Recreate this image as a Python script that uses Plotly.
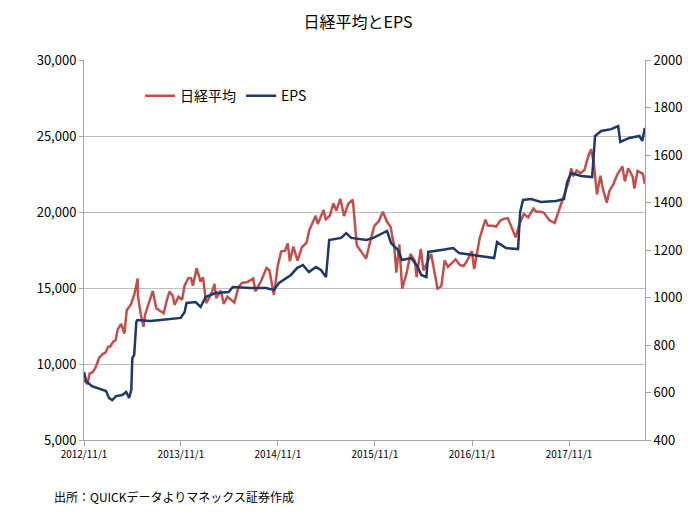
import plotly.graph_objects as go

# 日経平均 (読み取り値)
nikkei_dates = [
    "2012-11-01", "2012-11-14", "2012-11-22", "2012-12-03", "2012-12-14", "2012-12-28",
    "2013-01-10", "2013-01-21", "2013-01-31", "2013-02-08", "2013-02-19", "2013-02-28",
    "2013-03-08", "2013-03-21", "2013-04-02", "2013-04-11", "2013-04-26", "2013-05-10",
    "2013-05-22", "2013-05-23", "2013-06-03", "2013-06-13", "2013-06-19", "2013-07-01",
    "2013-07-18", "2013-07-31", "2013-08-12", "2013-08-28", "2013-09-09", "2013-09-19",
    "2013-10-01", "2013-10-08", "2013-10-23", "2013-11-05", "2013-11-15", "2013-11-29",
    "2013-12-09", "2013-12-16", "2013-12-30", "2014-01-14", "2014-01-23", "2014-02-04",
    "2014-02-14", "2014-02-28", "2014-03-07", "2014-03-14", "2014-03-31", "2014-04-11",
    "2014-04-25", "2014-05-12", "2014-05-21", "2014-06-06", "2014-06-20", "2014-07-07",
    "2014-07-31", "2014-08-08", "2014-08-29", "2014-09-19", "2014-09-30", "2014-10-17",
    "2014-10-31", "2014-11-13", "2014-11-28", "2014-12-08", "2014-12-16", "2014-12-29",
    "2015-01-14", "2015-01-30", "2015-02-17", "2015-02-27", "2015-03-23", "2015-03-31",
    "2015-04-22", "2015-04-30", "2015-05-15", "2015-05-29", "2015-06-09", "2015-06-24",
    "2015-07-08", "2015-07-24", "2015-08-10", "2015-08-25", "2015-09-08", "2015-09-29",
    "2015-10-15", "2015-10-30", "2015-11-16", "2015-12-01", "2015-12-17", "2015-12-30",
    "2016-01-13", "2016-01-21", "2016-02-01", "2016-02-12", "2016-02-29", "2016-03-14",
    "2016-03-31", "2016-04-06", "2016-04-22", "2016-05-02", "2016-05-31", "2016-06-24",
    "2016-07-08", "2016-07-21", "2016-08-02", "2016-08-31", "2016-09-16", "2016-09-30",
    "2016-10-13", "2016-10-31", "2016-11-09", "2016-11-30", "2016-12-21", "2016-12-30",
    "2017-01-16", "2017-01-31", "2017-02-15", "2017-03-02", "2017-03-16", "2017-03-31",
    "2017-04-14", "2017-04-28", "2017-05-15", "2017-05-31", "2017-06-20", "2017-06-30",
    "2017-07-19", "2017-07-31", "2017-08-18", "2017-09-08", "2017-09-29", "2017-10-13",
    "2017-10-31", "2017-11-09", "2017-11-16", "2017-11-30", "2017-12-15", "2017-12-29",
    "2018-01-12", "2018-01-23", "2018-02-02", "2018-02-14", "2018-02-27", "2018-03-09",
    "2018-03-23", "2018-04-02", "2018-04-17", "2018-05-02", "2018-05-21", "2018-05-30",
    "2018-06-12", "2018-06-29", "2018-07-05", "2018-07-17", "2018-07-31", "2018-08-06",
    "2018-08-13",
]
nikkei = [
    8946, 8664, 9366, 9458, 9737, 10395,
    10652, 10747, 11139, 11153, 11468, 11559,
    12283, 12636, 12003, 13549, 13884, 14608,
    15627, 14484, 13262, 12445, 13245, 13852,
    14808, 13668, 13519, 13338, 14205, 14766,
    14484, 13894, 14426, 14225, 15166, 15662,
    15651, 15153, 16291, 15422, 15695, 14009,
    14313, 14841, 15275, 14327, 14828, 13960,
    14429, 14150, 14043, 15077, 15349, 15379,
    15621, 14778, 15425, 16321, 16174, 14532,
    16414, 17392, 17460, 17935, 16756, 17730,
    16795, 17674, 17987, 18798, 19754, 19207,
    20133, 19520, 19733, 20563, 20096, 20868,
    19737, 20544, 20808, 17806, 17427, 16931,
    18096, 19083, 19394, 20012, 19353, 19034,
    17715, 16017, 17865, 14953, 16027, 17233,
    16759, 15715, 17572, 16147, 17235, 14952,
    15107, 16810, 16391, 16887, 16519, 16450,
    16775, 17425, 16251, 18308, 19494, 19114,
    19096, 19041, 19438, 19564, 19590, 18909,
    18336, 19197, 19869, 19651, 20230, 20033,
    20020, 19925, 19470, 19275, 20356, 21155,
    22012, 22869, 22351, 22725, 22553, 22765,
    23653, 24124, 23274, 21154, 22389, 21469,
    20618, 21389, 21836, 22473, 23002, 22018,
    22878, 22305, 21547, 22697, 22554, 22508,
    21858,
]

# EPS (読み取り値)
eps_dates = [
    "2012-11-01", "2012-11-09", "2012-12-01", "2012-12-31", "2013-01-23", "2013-02-03",
    "2013-02-15", "2013-03-02", "2013-03-25", "2013-04-09", "2013-04-20", "2013-04-28",
    "2013-05-02", "2013-05-09", "2013-05-17", "2013-05-21", "2013-07-09", "2013-08-16",
    "2013-09-23", "2013-10-31", "2013-11-15", "2013-11-22", "2013-12-26", "2014-01-14",
    "2014-02-02", "2014-03-11", "2014-04-30", "2014-05-15", "2014-07-22", "2014-09-17",
    "2014-10-17", "2014-11-05", "2014-12-20", "2015-01-12", "2015-02-03", "2015-02-26",
    "2015-03-24", "2015-04-12", "2015-05-01", "2015-05-13", "2015-06-27", "2015-07-16",
    "2015-08-04", "2015-09-30", "2015-10-26", "2015-12-02", "2015-12-17", "2016-01-01",
    "2016-01-27", "2016-02-11", "2016-03-17", "2016-04-08", "2016-04-24", "2016-05-13",
    "2016-05-20", "2016-07-08", "2016-08-22", "2016-09-13", "2016-10-28", "2016-12-24",
    "2017-01-23", "2017-02-03", "2017-03-09", "2017-04-23", "2017-05-01", "2017-05-12",
    "2017-06-11", "2017-07-18", "2017-09-13", "2017-10-13", "2017-10-25", "2017-11-09",
    "2017-12-16", "2018-01-27", "2018-02-07", "2018-03-02", "2018-04-09", "2018-05-05",
    "2018-05-13", "2018-06-16", "2018-07-24", "2018-08-04", "2018-08-13",
]
eps = [
    686, 648, 627, 615, 606, 577,
    568, 585, 589, 602, 577, 611,
    745, 758, 897, 905, 901, 905,
    909, 914, 939, 977, 981, 960,
    1002, 1019, 1023, 1044, 1040, 1040,
    1032, 1061, 1095, 1124, 1137, 1107,
    1128, 1116, 1086, 1242, 1251, 1271,
    1251, 1242, 1251, 1271, 1280, 1229,
    1200, 1158, 1166, 1133, 1095, 1086,
    1192, 1200, 1208, 1187, 1179, 1171,
    1166, 1233, 1208, 1204, 1360, 1411,
    1415, 1402, 1406, 1415, 1486, 1524,
    1512, 1507, 1680, 1701, 1709, 1722,
    1655, 1672, 1680, 1659, 1714,
]

tick_dates = ["2012-11-01", "2013-11-01", "2014-11-01", "2015-11-01", "2016-11-01", "2017-11-01"]
tick_labels = ["2012/11/1", "2013/11/1", "2014/11/1", "2015/11/1", "2016/11/1", "2017/11/1"]

font_jp = "Noto Sans CJK JP"

fig = go.Figure()
fig.add_trace(go.Scatter(x=nikkei_dates, y=nikkei, name="日経平均", mode="lines",
                         line=dict(color="#C0504D", width=2.5)))
fig.add_trace(go.Scatter(x=eps_dates, y=eps, name="EPS", mode="lines", yaxis="y2",
                         line=dict(color="#1F3864", width=2.5)))

# ページ本体の余白(8px)を見込んだマージン
fig.update_layout(
    width=700, height=522,
    margin=dict(l=76, r=63, t=52, b=90),
    paper_bgcolor="white", plot_bgcolor="white",
    font=dict(family=font_jp, color="#000000"),
    title=dict(text="日経平均とEPS", x=0.5, xanchor="center", y=0.973, yanchor="middle",
               font=dict(size=16, family=font_jp)),
    showlegend=True,
    legend=dict(orientation="h", x=0.1, y=0.947, xanchor="left", yanchor="top",
                bgcolor="rgba(0,0,0,0)", font=dict(size=14, family=font_jp),
                itemwidth=30, traceorder="normal"),
    xaxis=dict(type="date", range=["2012-11-01", "2018-08-14"],
               tickvals=tick_dates, ticktext=tick_labels,
               ticks="outside", ticklen=5, tickcolor="#A6A6A6",
               showline=True, linecolor="#A6A6A6", linewidth=1,
               showgrid=False, zeroline=False,
               tickfont=dict(size=10, family=font_jp)),
    yaxis=dict(range=[5000, 30000], dtick=5000, tickformat=",",
               ticks="outside", ticklen=4, tickcolor="#A6A6A6",
               showline=True, linecolor="#A6A6A6", linewidth=1,
               showgrid=True, gridcolor="#BFBFBF", gridwidth=1, zeroline=False,
               tickfont=dict(size=13, family=font_jp)),
    yaxis2=dict(range=[400, 2000], dtick=200, overlaying="y", side="right",
                ticks="outside", ticklen=5, tickcolor="#A6A6A6",
                showline=True, linecolor="#A6A6A6", linewidth=1,
                showgrid=False, zeroline=False,
                tickfont=dict(size=13, family=font_jp)),
)

fig.add_annotation(text="出所：QUICKデータよりマネックス証券作成", xref="paper", yref="paper",
                   x=-0.057, y=-0.15, xanchor="left", yanchor="middle", showarrow=False,
                   font=dict(size=12, family=font_jp))

fig.write_html("out.html")
